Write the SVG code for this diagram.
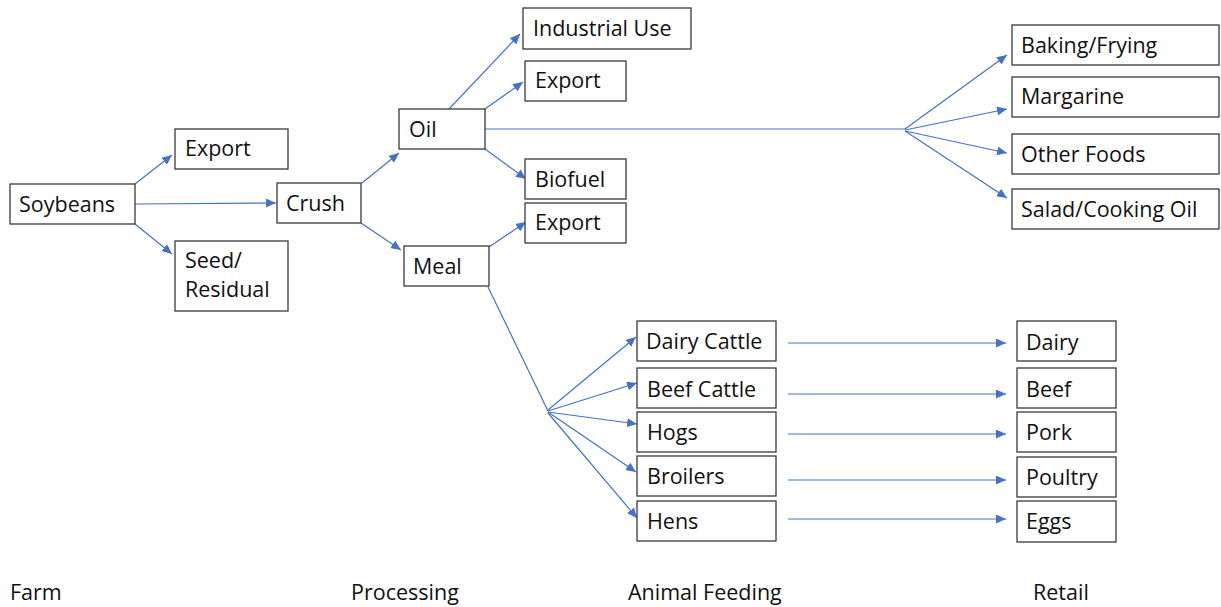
<svg xmlns="http://www.w3.org/2000/svg" width="1221" height="607" viewBox="0 0 1221 607">
<style>
.box{fill:#fff;stroke:#3a3a3a;stroke-width:1.3}
.t{font-family:"Open Sans","Liberation Sans",sans-serif;font-size:21.5px;fill:#111}
.c{stroke:#4472C4;stroke-width:1.2;fill:none}
.a{marker-end:url(#ah)}
</style>
<defs>
<marker id="ah" markerUnits="userSpaceOnUse" markerWidth="11" markerHeight="9" refX="10" refY="4.5" orient="auto">
<path d="M0,0 L10,4.5 L0,9 z" fill="#4472C4"/>
</marker>
</defs>
<rect width="1221" height="607" fill="#fff"/>
<g id="connectors">
<line class="c a" x1="135" y1="184" x2="172" y2="155"/>
<line class="c a" x1="135" y1="204" x2="276" y2="203"/>
<line class="c a" x1="135" y1="224" x2="172" y2="254"/>
<line class="c a" x1="362" y1="183" x2="399" y2="153"/>
<line class="c a" x1="361" y1="223" x2="401" y2="250"/>
<line class="c a" x1="449" y1="109" x2="520" y2="34"/>
<line class="c a" x1="485" y1="109" x2="523" y2="82"/>
<line class="c a" x1="485" y1="149" x2="526" y2="179"/>
<line class="c a" x1="489" y1="247" x2="526" y2="222"/>
<line class="c" x1="485" y1="129" x2="905" y2="129"/>
<line class="c a" x1="905" y1="129" x2="1007" y2="55"/>
<line class="c a" x1="905" y1="130" x2="1007" y2="109"/>
<line class="c a" x1="905" y1="131" x2="1007" y2="153"/>
<line class="c a" x1="905" y1="131" x2="1007" y2="198"/>
<line class="c" x1="488" y1="287" x2="548" y2="411"/>
<line class="c a" x1="548" y1="410" x2="636" y2="337"/>
<line class="c a" x1="548" y1="411" x2="637" y2="383"/>
<line class="c a" x1="548" y1="412" x2="637" y2="424"/>
<line class="c a" x1="548" y1="412" x2="636" y2="472"/>
<line class="c a" x1="548" y1="413" x2="637" y2="518"/>
<line class="c a" x1="788" y1="343" x2="1006" y2="343"/>
<line class="c a" x1="788" y1="394" x2="1006" y2="394"/>
<line class="c a" x1="788" y1="434" x2="1006" y2="434"/>
<line class="c a" x1="788" y1="480" x2="1006" y2="480"/>
<line class="c a" x1="788" y1="519" x2="1006" y2="519"/>
</g>
<g id="soybeans"><rect class="box" x="10" y="184" width="125" height="40"/><text class="t" x="19" y="212">Soybeans</text></g>
<g id="export-farm"><rect class="box" x="175" y="129" width="113" height="40"/><text class="t" x="185" y="156">Export</text></g>
<g id="seed-residual"><rect class="box" x="175" y="241" width="113" height="70"/><text class="t" x="185" y="268">Seed/</text><text class="t" x="185" y="297">Residual</text></g>
<g id="crush"><rect class="box" x="277" y="183" width="84" height="40"/><text class="t" x="286" y="211">Crush</text></g>
<g id="oil"><rect class="box" x="399" y="109" width="86" height="40"/><text class="t" x="409" y="137">Oil</text></g>
<g id="meal"><rect class="box" x="404" y="246" width="85" height="40"/><text class="t" x="413" y="274">Meal</text></g>
<g id="industrial-use"><rect class="box" x="523" y="8" width="168" height="41"/><text class="t" x="533" y="36">Industrial Use</text></g>
<g id="export-oil"><rect class="box" x="525" y="61" width="101" height="40"/><text class="t" x="535" y="88">Export</text></g>
<g id="biofuel"><rect class="box" x="525" y="159" width="101" height="40"/><text class="t" x="535" y="187">Biofuel</text></g>
<g id="export-meal"><rect class="box" x="525" y="203" width="101" height="40"/><text class="t" x="535" y="230">Export</text></g>
<g id="baking-frying"><rect class="box" x="1012" y="25" width="207" height="40"/><text class="t" x="1021" y="53">Baking/Frying</text></g>
<g id="margarine"><rect class="box" x="1012" y="77" width="207" height="40"/><text class="t" x="1021" y="104">Margarine</text></g>
<g id="other-foods"><rect class="box" x="1012" y="134" width="207" height="40"/><text class="t" x="1021" y="162">Other Foods</text></g>
<g id="salad-cooking-oil"><rect class="box" x="1012" y="189" width="207" height="40"/><text class="t" x="1021" y="217">Salad/Cooking Oil</text></g>
<g id="dairy-cattle"><rect class="box" x="637" y="321" width="139" height="40"/><text class="t" x="646" y="349">Dairy Cattle</text></g>
<g id="beef-cattle"><rect class="box" x="637" y="368" width="139" height="40"/><text class="t" x="647" y="397">Beef Cattle</text></g>
<g id="hogs"><rect class="box" x="637" y="412" width="139" height="40"/><text class="t" x="647" y="440">Hogs</text></g>
<g id="broilers"><rect class="box" x="637" y="456" width="139" height="40"/><text class="t" x="647" y="484">Broilers</text></g>
<g id="hens"><rect class="box" x="637" y="501" width="139" height="40"/><text class="t" x="647" y="529">Hens</text></g>
<g id="dairy"><rect class="box" x="1017" y="321" width="99" height="40"/><text class="t" x="1026" y="350">Dairy</text></g>
<g id="beef"><rect class="box" x="1017" y="368" width="99" height="40"/><text class="t" x="1026" y="397">Beef</text></g>
<g id="pork"><rect class="box" x="1017" y="412" width="99" height="40"/><text class="t" x="1026" y="440">Pork</text></g>
<g id="poultry"><rect class="box" x="1017" y="457" width="99" height="40"/><text class="t" x="1026" y="485">Poultry</text></g>
<g id="eggs"><rect class="box" x="1017" y="501" width="99" height="41"/><text class="t" x="1026" y="529">Eggs</text></g>
<g id="stage-labels">
<text class="t" x="10" y="600">Farm</text>
<text class="t" x="351" y="600">Processing</text>
<text class="t" x="628" y="600">Animal Feeding</text>
<text class="t" x="1033" y="600">Retail</text>
</g>
</svg>
